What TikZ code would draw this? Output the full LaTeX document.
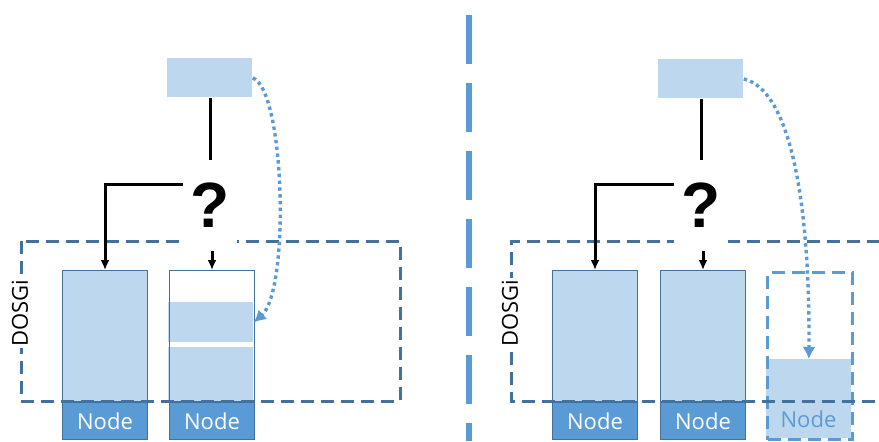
\documentclass[tikz,border=0pt]{standalone}
\usepackage{fontspec}
\setmainfont{Open Sans}
\newfontfamily\qfont{Liberation Sans}
\usetikzlibrary{arrows.meta,positioning}
\definecolor{lb}{HTML}{BDD7EE}
\definecolor{db}{HTML}{5B9BD5}
\definecolor{gb}{HTML}{41719C}

\begin{document}
\begin{tikzpicture}[x=0.5pt,y=-0.5pt,
  col/.style={draw=gb,line width=0.5pt,fill=lb,minimum width=42.5pt,minimum height=65.5pt,inner sep=0pt},
  foot/.style={draw=gb,line width=0.5pt,fill=db,text=white,minimum width=42.5pt,minimum height=18.5pt,inner sep=0pt,font=\fontsize{11}{13}\selectfont},
  src/.style={fill=lb,minimum width=42.5pt,minimum height=19.5pt,inner sep=0pt},
  ask/.style={fill=white,minimum width=27pt,minimum height=45.5pt,inner sep=0pt,font=\qfont\bfseries\fontsize{32}{36}\selectfont},
  ghost/.style={draw=db,line width=1.5pt,dash pattern=on 6.5pt off 3.5pt,minimum width=42.5pt,minimum height=83.5pt,inner sep=0pt},
  dosgi/.style={draw=gb,line width=1.5pt,dash pattern=on 6.5pt off 3.5pt},
  lbl/.style={rotate=90,fill=white,inner sep=1pt,font=\fontsize{11}{13}\selectfont},
  conn/.style={line width=1.5pt,-{Latex[length=5pt,width=4.5pt]}},
  move/.style={db,line width=1.7pt,dash pattern=on 1.7pt off 1.7pt,-{Latex[length=6pt,width=6.5pt]}}
]
\useasboundingbox (0,0) rectangle (879,441);

% left half
\node[src,anchor=north west] (t1) at (167,58) {};
\node[col,anchor=north west] (c1) at (62,270) {};
\fill[lb] (168,347) rectangle (253,401);
\node[anchor=north west,fill=lb,minimum width=42.5pt,minimum height=20pt,inner sep=0pt] (bd) at (168,302) {};
\node[col,fill=none,right=10.5pt of c1] (c2) {};
\node[foot,below=0pt of c1] (n1) {Node};
\node[foot,below=0pt of c2] (n2) {Node};
\draw[dosgi] (21,241) rectangle (400,401);
\node[lbl] (d1) at (20,313) {DOSGi};
\node[ask] (q1) at (210,205.5) {?};
\draw[line width=1.5pt] (t1.south -| q1) -- (q1.north);
\draw[conn] ([yshift=10.75pt]q1.west) -| (c1.north);
\draw[conn] (q1.south -| c2) -- (c2.north);
\draw[move] (t1.east) .. controls (285,90) and (290,290) .. (bd.east);

% divider
\draw[db,line width=3pt,dash pattern=on 24.5pt off 9.5pt] (469,15) -- (469,441);

% right half
\node[src,anchor=north west] (t2) at (658,59) {};
\node[col,anchor=north west] (c3) at (552,270) {};
\node[col,right=11pt of c3] (c4) {};
\node[foot,below=0pt of c3] (n3) {Node};
\node[foot,below=0pt of c4] (n4) {Node};
\node[anchor=north west,fill=lb,minimum width=42.5pt,minimum height=39.5pt,inner sep=0pt] (gf) at (766,359) {};
\node[text=db,font=\fontsize{11}{13}\selectfont] (n5) at (808.5,419.5) {Node};
\node[ghost,anchor=north west] (g) at (766,271) {};
\draw[dosgi] (880,241) -| (511,401) -- (880,401);
\node[lbl] (d2) at (510,313) {DOSGi};
\node[ask] (q2) at (701,205.5) {?};
\draw[line width=1.5pt] (t2.south -| q2) -- (q2.north);
\draw[conn] ([yshift=10.75pt]q2.west) -| (c3.north);
\draw[conn] (q2.south -| c4) -- (c4.north);
\draw[move] (t2.east) .. controls (790,90) and (810,200) .. (gf.north);
\end{tikzpicture}
\end{document}
